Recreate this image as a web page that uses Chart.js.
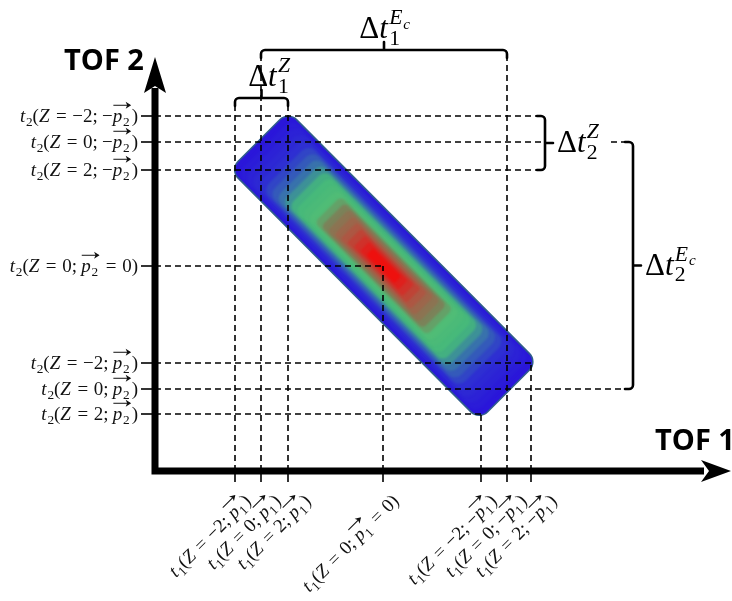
<!DOCTYPE html>
<html>
<head>
<meta charset="utf-8">
<script src="https://cdn.jsdelivr.net/npm/chart.js@4.4.1/dist/chart.umd.min.js"></script>
<style>
  html, body { margin: 0; padding: 0; background: #fff; }
  canvas { display: block; }
</style>
</head>
<body>
<canvas id="tofChart" width="732" height="601"></canvas>
<script>
// tick positions, arbitrary time units (TOF 1 = x, TOF 2 = y)
const t1Labels = [
  't_1(Z = −2; \\vec{p_1})',
  't_1(Z = 0; \\vec{p_1})',
  't_1(Z = 2; \\vec{p_1})',
  't_1(Z = 0; \\vec{p_1} = 0)',
  't_1(Z = −2; −\\vec{p_1})',
  't_1(Z = 0; −\\vec{p_1})',
  't_1(Z = 2; −\\vec{p_1})'
];
const t1Ticks = [8.0, 10.6, 13.3, 22.8, 32.6, 35.2, 37.6];
// how far up each vertical guide goes
const t1GuideTop = [36.5, 41.2, 36.5, 20.5, 5.7, 41.2, 10.8];

const t2Labels = [
  't_2(Z = −2; −\\vec{p_2})',
  't_2(Z = 0; −\\vec{p_2})',
  't_2(Z = 2; −\\vec{p_2})',
  't_2(Z = 0; \\vec{p_2} = 0)',
  't_2(Z = −2; \\vec{p_2})',
  't_2(Z = 0; \\vec{p_2})',
  't_2(Z = 2; \\vec{p_2})'
];
const t2Ticks = [35.5, 32.9, 30.1, 20.5, 10.8, 8.2, 5.7];
// how far right each horizontal guide goes
const t2GuideEnd = [38.2, 39.0, 38.2, 22.8, 37.6, 46.9, 32.6];

// brackets: index range on the ticks + position
const topBrackets = [
  { from: 1, to: 5, y: 42.1, label: 'Δt_1^{E_c}', dx: 1 },
  { from: 0, to: 2, y: 37.3, label: 'Δt_1^Z', dx: 8 }
];
const sideBrackets = [
  { from: 0, to: 2, x: 39.0, label: 'Δt_2^Z' },
  { from: 1, to: 5, x: 47.8, label: 'Δt_2^{E_c}' }
];

const serif = '"Liberation Serif", "DejaVu Serif", serif';

// --- tiny TeX-ish text renderer -------------------------------------
function parseTeX(s) {
  const out = [];
  let i = 0;
  const readGroup = () => {
    if (s[i] === '{') {
      let d = 1, j = i + 1;
      while (d) { if (s[j] === '{') d++; else if (s[j] === '}') d--; j++; }
      const g = s.slice(i + 1, j - 1);
      i = j;
      return g;
    }
    return s[i++];
  };
  while (i < s.length) {
    const c = s[i];
    if (c === ' ') { i++; continue; }
    if (s.startsWith('\\vec', i)) { i += 4; out.push({ kind: 'vec', body: parseTeX(readGroup()) }); continue; }
    if (c === '_' || c === '^') { i++; out.push({ kind: c, body: parseTeX(readGroup()) }); continue; }
    i++;
    out.push({ kind: 'ch', t: c, it: /[A-Za-z]/.test(c) });
  }
  return out;
}

function layoutTeX(ctx, nodes, x, y, size, draw) {
  let prev = null;
  for (const n of nodes) {
    if (n.kind === 'ch') {
      if (n.t === '=') x += 0.3 * size;
      ctx.font = (n.it ? 'italic ' : '') + size + 'px ' + serif;
      if (draw) ctx.fillText(n.t, x, y);
      x += ctx.measureText(n.t).width;
      if (n.t === '=') x += 0.3 * size;
      if (n.t === ';') x += 0.22 * size;
      if (n.it) x += 0.04 * size;
      prev = null;
    } else if (n.kind === '_' || n.kind === '^') {
      const dy = n.kind === '_' ? 0.22 * size : -0.45 * size;
      const stack = prev && prev.kind !== n.kind;
      const sx = stack ? prev.start : x;
      const end = layoutTeX(ctx, n.body, sx, y + dy, size * 0.7, draw);
      x = stack ? Math.max(prev.end, end) : end;
      prev = { kind: n.kind, start: sx, end: end };
    } else if (n.kind === 'vec') {
      const start = x;
      const end = layoutTeX(ctx, n.body, x, y, size, draw);
      if (draw) {
        const ay = y - 0.88 * size;
        ctx.save();
        ctx.lineWidth = 1;
        ctx.beginPath();
        ctx.moveTo(start + 1, ay);
        ctx.lineTo(end, ay);
        ctx.stroke();
        ctx.beginPath();
        ctx.moveTo(end + 1.5, ay);
        ctx.lineTo(end - 4, ay - 3.5);
        ctx.lineTo(end - 2.5, ay);
        ctx.lineTo(end - 4, ay + 3.5);
        ctx.closePath();
        ctx.fill();
        ctx.restore();
      }
      x = end + 2;
      prev = null;
    }
  }
  return x;
}

function drawTeX(ctx, src, x, y, size, align) {
  const nodes = parseTeX(src);
  const w = layoutTeX(ctx, nodes, 0, 0, size, false);
  let sx = x;
  if (align === 'right') sx = x - w;
  else if (align === 'center') sx = x - w / 2;
  ctx.textAlign = 'left';
  ctx.textBaseline = 'alphabetic';
  layoutTeX(ctx, nodes, sx, y, size, true);
  return w;
}

// --- blob colours (outer -> centre) ---------------------------------
const blobStops = [
  [0.00, [42, 22, 218]],
  [0.18, [46, 46, 210]],
  [0.31, [55, 108, 176]],
  [0.42, [68, 184, 124]],
  [0.55, [80, 188, 118]],
  [0.64, [125, 128, 88]],
  [0.76, [168, 92, 70]],
  [0.88, [214, 42, 38]],
  [1.00, [252, 0, 0]]
];
function blobColor(t) {
  for (let i = 1; i < blobStops.length; i++) {
    if (t <= blobStops[i][0]) {
      const [t0, c0] = blobStops[i - 1], [t1, c1] = blobStops[i];
      const f = (t - t0) / (t1 - t0);
      const c = c0.map((v, k) => Math.round(v + (c1[k] - v) * f));
      return 'rgb(' + c.join(',') + ')';
    }
  }
  return 'rgb(252,0,0)';
}

function rrPath(ctx, a, b, r) {
  ctx.beginPath();
  ctx.moveTo(-a + r, -b);
  ctx.arcTo(a, -b, a, b, r);
  ctx.arcTo(a, b, -a, b, r);
  ctx.arcTo(-a, b, -a, -b, r);
  ctx.arcTo(-a, -b, a, -b, r);
  ctx.closePath();
}

const blobPlugin = {
  id: 'blob',
  beforeDatasetsDraw(chart) {
    const { ctx, scales: { x, y } } = chart;
    // extreme points of the distribution come from the tick positions
    const T = [x.getPixelForValue(t1Ticks[2]), y.getPixelForValue(t2Ticks[0])];
    const L = [x.getPixelForValue(t1Ticks[0]), y.getPixelForValue(t2Ticks[2])];
    const R = [x.getPixelForValue(t1Ticks[6]), y.getPixelForValue(t2Ticks[4])];
    const B = [x.getPixelForValue(t1Ticks[4]), y.getPixelForValue(t2Ticks[6])];
    const e1 = [(T[0] + L[0]) / 2, (T[1] + L[1]) / 2];
    const e2 = [(R[0] + B[0]) / 2, (R[1] + B[1]) / 2];
    const cx = (e1[0] + e2[0]) / 2, cy = (e1[1] + e2[1]) / 2;
    const r = 12;
    const a = Math.hypot(e2[0] - e1[0], e2[1] - e1[1]) / 2 + 0.293 * r;
    const b = Math.hypot(T[0] - L[0], T[1] - L[1]) / 2 + 0.293 * r;
    const theta = Math.atan2(e2[1] - e1[1], e2[0] - e1[0]);

    ctx.save();
    ctx.translate(cx, cy);
    ctx.rotate(theta);
    rrPath(ctx, a, b, r);
    ctx.fillStyle = blobColor(0);
    ctx.fill();
    ctx.save();
    rrPath(ctx, a, b, r);
    ctx.clip();
    ctx.filter = 'blur(1.2px)';
    const N = 22;
    for (let i = 1; i < N; i++) {
      const t = i / N;
      const s = 1 - 0.93 * t;
      rrPath(ctx, a * s, b * s, Math.max(2, r * s));
      ctx.fillStyle = blobColor(t);
      ctx.fill();
    }
    ctx.restore();
    rrPath(ctx, a, b, r);
    ctx.strokeStyle = '#2f5d8c';
    ctx.lineWidth = 1.6;
    ctx.stroke();
    ctx.restore();
  }
};

const overlayPlugin = {
  id: 'overlay',
  afterDatasetsDraw(chart) {
    const { ctx, chartArea: area, scales: { x, y } } = chart;
    const x0 = area.left, y0 = area.bottom;
    ctx.save();
    ctx.fillStyle = '#000';
    ctx.strokeStyle = '#000';

    // ticks
    ctx.lineWidth = 1.6;
    t2Ticks.forEach(v => {
      const py = y.getPixelForValue(v);
      ctx.beginPath(); ctx.moveTo(x0 - 14, py); ctx.lineTo(x0, py); ctx.stroke();
    });
    t1Ticks.forEach(v => {
      const px = x.getPixelForValue(v);
      ctx.beginPath(); ctx.moveTo(px, y0); ctx.lineTo(px, y0 + 11); ctx.stroke();
    });

    // axes
    ctx.lineWidth = 7;
    ctx.lineJoin = 'miter';
    ctx.lineCap = 'butt';
    ctx.beginPath();
    ctx.moveTo(x0, 88);
    ctx.lineTo(x0, y0);
    ctx.lineTo(704, y0);
    ctx.stroke();
    ctx.beginPath();
    ctx.moveTo(x0, 57); ctx.lineTo(x0 + 11, 93); ctx.lineTo(x0, 86); ctx.lineTo(x0 - 11, 93);
    ctx.closePath(); ctx.fill();
    ctx.beginPath();
    ctx.moveTo(731, y0); ctx.lineTo(701, y0 - 11); ctx.lineTo(709, y0); ctx.lineTo(701, y0 + 11);
    ctx.closePath(); ctx.fill();

    ctx.font = 'bold 29px "Open Sans", sans-serif';
    ctx.textAlign = 'left';
    ctx.textBaseline = 'alphabetic';
    ctx.fillText('TOF 2', 64, 70);
    ctx.fillText('TOF 1', 655, 450);

    // brackets
    ctx.lineWidth = 2.6;
    ctx.lineCap = 'round';
    ctx.lineJoin = 'round';
    topBrackets.forEach(br => {
      const xa = x.getPixelForValue(t1Ticks[br.from]);
      const xb = x.getPixelForValue(t1Ticks[br.to]);
      const py = y.getPixelForValue(br.y);
      const xm = (xa + xb) / 2;
      ctx.beginPath();
      ctx.moveTo(xa, py + 8);
      ctx.arcTo(xa, py, xa + 6, py, 4);
      ctx.arcTo(xb, py, xb, py + 8, 4);
      ctx.lineTo(xb, py + 8);
      ctx.moveTo(xm, py);
      ctx.lineTo(xm, py - 8);
      ctx.stroke();
      drawTeX(ctx, br.label, xm + br.dx, py - 12, 31, 'center');
    });
    sideBrackets.forEach(br => {
      const ya = y.getPixelForValue(t2Ticks[br.from]);
      const yb = y.getPixelForValue(t2Ticks[br.to]);
      const px = x.getPixelForValue(br.x);
      const ym = (ya + yb) / 2;
      ctx.beginPath();
      ctx.moveTo(px - 8, ya);
      ctx.arcTo(px, ya, px, ya + 6, 4);
      ctx.arcTo(px, yb, px - 8, yb, 4);
      ctx.lineTo(px - 8, yb);
      ctx.moveTo(px, ym);
      ctx.lineTo(px + 8, ym);
      ctx.stroke();
      drawTeX(ctx, br.label, px + 12, ym + 9, 31, 'left');
    });

    // tick labels
    ctx.fillStyle = '#111';
    ctx.strokeStyle = '#111';
    t2Ticks.forEach((v, i) => {
      drawTeX(ctx, t2Labels[i], x0 - 17, y.getPixelForValue(v) + 6, 19, 'right');
    });
    let prevX = -Infinity;
    t1Ticks.forEach((v, i) => {
      const ax = Math.max(x.getPixelForValue(v) + 17, prevX + 30);
      prevX = ax;
      ctx.save();
      ctx.translate(ax, y0 + 31);
      ctx.rotate(-Math.PI / 4);
      drawTeX(ctx, t1Labels[i], 0, 0, 19, 'right');
      ctx.restore();
    });
    ctx.restore();
  }
};

const dash = { borderColor: '#000', borderWidth: 1.6, borderDash: [6, 4], pointRadius: 0, showLine: true, clip: false, fill: false };
const guides = [];
t2Ticks.forEach((v, i) => guides.push({ ...dash, data: [{ x: 0, y: v }, { x: t2GuideEnd[i], y: v }] }));
t1Ticks.forEach((v, i) => guides.push({ ...dash, data: [{ x: v, y: 0 }, { x: v, y: t1GuideTop[i] }] }));
// short piece between the Δt2^Z label and the big bracket
guides.push({ ...dash, data: [{ x: 45.6, y: t2Ticks[1] }, { x: 46.9, y: t2Ticks[1] }] });

new Chart(document.getElementById('tofChart').getContext('2d'), {
  type: 'scatter',
  data: { datasets: guides },
  options: {
    responsive: false,
    animation: false,
    layout: { padding: { left: 155, right: 1, top: 40, bottom: 130 } },
    scales: {
      x: { type: 'linear', display: false, min: 0, max: 57.6 },
      y: { type: 'linear', display: false, min: 0, max: 43.1 }
    },
    plugins: { legend: { display: false }, tooltip: { enabled: false } }
  },
  plugins: [blobPlugin, overlayPlugin]
});
</script>
</body>
</html>
